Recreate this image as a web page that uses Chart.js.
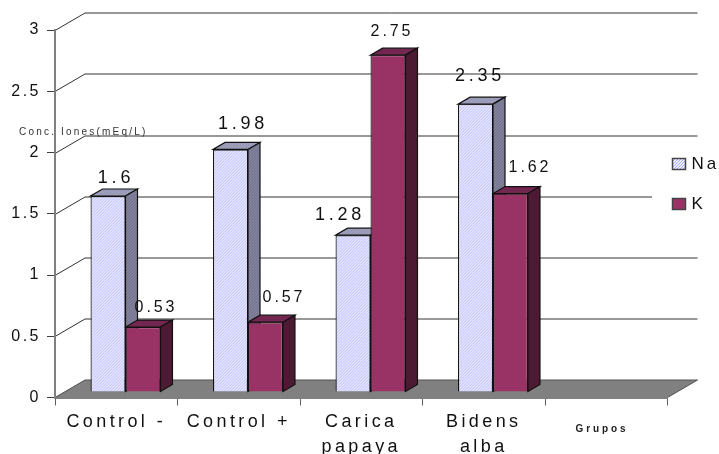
<!DOCTYPE html>
<html>
<head>
<meta charset="utf-8">
<style>html,body{margin:0;padding:0;background:#fff}canvas{display:block}</style>
<script src="https://cdn.jsdelivr.net/npm/chart.js@4"></script>
</head>
<body>
<canvas id="c" width="719" height="454"></canvas>
<script>
const categories = [["Control -"], ["Control +"], ["Carica", "papaya"], ["Bidens", "alba"], [""]];
const naValues = [1.6, 1.98, 1.28, 2.35, null];
const kValues = [0.53, 0.57, 2.75, 1.62, null];
const yTicks = [0, 0.5, 1, 1.5, 2, 2.5, 3];
const yTitle = "Conc. Iones(mEq/L)";
const xTitle = "Grupos";

const FONT = '"Liberation Sans", Arial, sans-serif';
const WALL = {dx: 30, dy: -17.5};     // floor depth of the 3D box
const DEPTH = {dx: 12, dy: -7};       // depth of each column
const SHIFT = {dx: 9.25, dy: -5.5};   // columns stand part-way back on the floor

function hatch(bg, fg) {
  const t = document.createElement('canvas');
  t.width = t.height = 3;
  const g = t.getContext('2d');
  g.fillStyle = bg; g.fillRect(0, 0, 3, 3);
  g.fillStyle = fg;
  for (let i = 0; i < 3; i++) g.fillRect(i, 2 - i, 1, 1);
  return g.createPattern(t, 'repeat');
}
const ctx0 = document.getElementById('c').getContext('2d');
const naStyle = {front: hatch('#f0f0ff', '#a8a8fa'), side: hatch('#8c8ca8', '#5c5c74'), top: hatch('#a8a8c8', '#84849c')};
const kStyle = {front: '#993366', side: '#4d1a33', top: '#732650'};
const styles = [naStyle, kStyle];

function poly(ctx, pts, fill, stroke, width) {
  ctx.beginPath();
  pts.forEach((p, i) => i ? ctx.lineTo(p[0], p[1]) : ctx.moveTo(p[0], p[1]));
  ctx.closePath();
  if (fill) { ctx.fillStyle = fill; ctx.fill(); }
  if (stroke) { ctx.strokeStyle = stroke; ctx.lineWidth = width || 1; ctx.stroke(); }
}

function text(ctx, s, x, y, font, spacing, align, color) {
  ctx.save();
  ctx.font = font;
  ctx.letterSpacing = spacing + 'px';
  ctx.textAlign = align || 'center';
  ctx.textBaseline = 'middle';
  ctx.fillStyle = color || '#111';
  ctx.fillText(s, x, y);
  ctx.restore();
}

// Value label placement relative to the top centre of each column
const labelOffsets = [
  [[8, -18], [12.5, -25], [-13, -20], [4.5, -28]],
  [[13, -19], [18.5, -25], [4, -24], [19.5, -26]]
];
const labelFonts = [{size: 18, gap: 3.8}, {size: 16, gap: 2.9}];

const box3d = {
  id: 'box3d',
  beforeDraw(chart) {
    const {ctx, scales: {x, y}} = chart;
    ctx.save();
    ctx.fillStyle = '#fff';
    ctx.fillRect(0, 0, chart.width, chart.height);
    const l = x.left, r = x.right, b = y.getPixelForValue(0);
    // floor
    poly(ctx, [[l, b], [r, b], [r + WALL.dx, b + WALL.dy], [l + WALL.dx, b + WALL.dy]], '#808080', '#505050', 1);
    // wall lines, with a diagonal run along the side wall
    yTicks.forEach(v => {
      if (v === 0) return;
      const py = Math.round(y.getPixelForValue(v)) + 0.5;
      ctx.beginPath();
      ctx.moveTo(l, py);
      ctx.lineTo(l + WALL.dx, py + WALL.dy);
      ctx.lineTo(r + WALL.dx, py + WALL.dy);
      ctx.strokeStyle = '#333';
      ctx.lineWidth = 1;
      ctx.stroke();
    });
    ctx.restore();
    // category labels are spaced wider than the value axis labels
    ctx.letterSpacing = '3.4px';
  },
  beforeDatasetsDraw(chart) {
    const {ctx} = chart;
    // white panel behind the legend
    ctx.fillStyle = '#fff';
    ctx.fillRect(652, 150, 60, 65);
    ctx.save();
    ctx.translate(SHIFT.dx, SHIFT.dy);
    // top and side faces go in first so the front faces cover them;
    // the K faces overlap the side of the neighbouring Na column
    chart.data.datasets.forEach((ds, i) => {
      const st = styles[i];
      chart.getDatasetMeta(i).data.forEach((bar, j) => {
        if (ds.data[j] == null) return;
        const p = bar.getProps(['x', 'y', 'base', 'width'], true);
        const L = p.x - p.width / 2, R = p.x + p.width / 2, d = DEPTH;
        poly(ctx, [[L, p.y], [R, p.y], [R + d.dx, p.y + d.dy], [L + d.dx, p.y + d.dy]], st.top, '#111', 1.2);
        poly(ctx, [[R, p.y], [R + d.dx, p.y + d.dy], [R + d.dx, p.base + d.dy], [R, p.base]], st.side, '#111', 1.2);
      });
    });
  },
  afterDatasetsDraw(chart) {
    const {ctx} = chart;
    ctx.restore();
    // value labels
    chart.data.datasets.forEach((ds, i) => {
      chart.getDatasetMeta(i).data.forEach((bar, j) => {
        if (ds.data[j] == null) return;
        const o = labelOffsets[i][j], f = labelFonts[i];
        text(ctx, String(ds.data[j]), bar.x + SHIFT.dx + o[0], bar.y + SHIFT.dy + o[1], f.size + 'px ' + FONT, f.gap);
      });
    });
    // axis titles
    text(ctx, yTitle, 19, 132.5, '10px ' + FONT, 2.2, 'left', '#333');
    text(ctx, xTitle, 602, 429, 'bold 10px ' + FONT, 2.9, 'center', '#222');
    // legend
    chart.data.datasets.forEach((ds, i) => {
      const top = i === 0 ? 158 : 198;
      ctx.fillStyle = ds.backgroundColor;
      ctx.fillRect(672.5, top + 0.5, 13, 11);
      ctx.strokeStyle = '#444';
      ctx.lineWidth = 1.5;
      ctx.strokeRect(672.5, top + 0.5, 13, 11);
      text(ctx, ds.label, 691.5, top + 6, '17px ' + FONT, 3, 'left');
    });
    // the value axis labels render after this hook
    ctx.letterSpacing = '2.5px';
  }
};

new Chart(ctx0, {
  type: 'bar',
  plugins: [box3d],
  data: {
    labels: categories,
    datasets: [
      {label: 'Na', data: naValues, backgroundColor: naStyle.front, borderColor: '#111', borderWidth: 1.2},
      {label: 'K', data: kValues, backgroundColor: kStyle.front, borderColor: '#111', borderWidth: 1.2}
    ]
  },
  options: {
    responsive: false,
    animation: false,
    layout: {padding: {left: 0, top: 30, right: 51.5, bottom: 0}},
    plugins: {legend: {display: false}, tooltip: {enabled: false}},
    datasets: {bar: {categoryPercentage: 0.571, barPercentage: 1}},
    scales: {
      x: {
        afterFit: s => { s.height = 56.5; },
        border: {color: '#808080', width: 2},
        grid: {drawOnChartArea: false, drawTicks: true, tickLength: 8, color: '#606060', offset: true},
        ticks: {color: '#111', padding: 4, maxRotation: 0, autoSkip: false,
                font: {family: FONT, size: 18, lineHeight: '25px'}}
      },
      y: {
        min: 0, max: 3,
        afterFit: s => { s.width = 55; },
        border: {color: '#808080', width: 2},
        grid: {drawOnChartArea: false, drawTicks: true, tickLength: 8, color: '#404040'},
        ticks: {color: '#111', padding: 6, stepSize: 0.5, z: 1,
                callback: v => yTicks.includes(v) ? String(v) : '',
                font: {family: FONT, size: 16}}
      }
    }
  }
});
</script>
</body>
</html>
